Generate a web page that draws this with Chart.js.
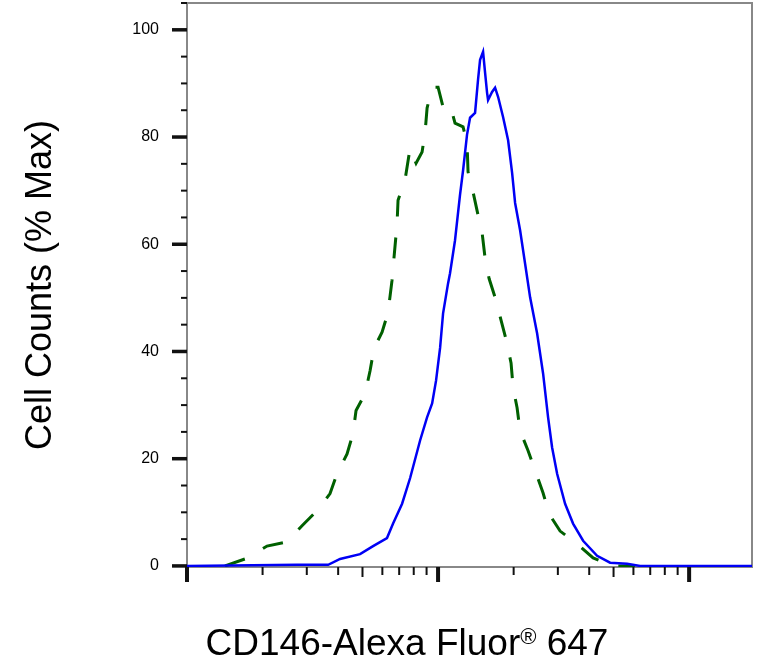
<!DOCTYPE html>
<html>
<head>
<meta charset="utf-8">
<title>CD146-Alexa Fluor 647 histogram</title>
<script src="https://cdn.jsdelivr.net/npm/chart.js@4.4.1/dist/chart.umd.min.js"></script>
<style>
    html, body { margin: 0; padding: 0; background: #fff; }
    #chart { display: block; }
</style>
</head>
<body>
<canvas id="chart" width="768" height="665"></canvas>
<script>
// CD146 staging histogram - stained (blue, solid) vs control (green, dashed)

// Stained sample (fluorescence, % max)
const stainedX = [1000, 2740, 3650, 4070, 4890, 5510, 6260, 6620, 7190, 7740,
    8480, 9040, 9470, 9820, 10190, 10470, 10960, 11160, 11680, 12230,
    12580, 13040, 13410, 14040, 14430, 14700, 15110, 15390, 15680, 15820,
    16410, 16870, 17340, 18160, 19010, 19720, 20270, 21220, 22210, 23260,
    24800, 26200, 27430, 28460, 29800, 32060, 34490, 37820, 43000, 48450,
    56620, 63800, 178000];
const stainedY = [0, 0.2, 0.2, 1.3, 2.2, 3.7, 5.2, 7.9, 11.6, 16.4,
    23.4, 27.7, 30.3, 34.6, 40.7, 47.1, 52.7, 54.6, 60.7, 69.2,
    73.8, 80.4, 83.6, 84.5, 90.7, 94.4, 95.9, 92.0, 88.2, 86.9,
    88.4, 89.2, 87.5, 83.7, 79.4, 73.3, 67.7, 62.6, 56.4, 50.1,
    43.4, 35.9, 27.7, 22.1, 17.2, 11.6, 7.9, 4.7, 1.9, 0.6,
    0.4, 0, 0];

// Control sample
const controlX = [1417, 1750, 2083, 2502, 2872, 3295, 3713, 3960, 4340, 4585,
    4713, 5120, 5360, 5559, 5983, 6322, 6557, 6618, 6866, 6928,
    7387, 7735, 8173, 8636, 8878, 9042, 9465, 10000, 10469, 11160,
    11684, 12575, 13044, 13165, 13790, 14433, 14972, 15392, 15967, 17025,
    17824, 18834, 19535, 19900, 20640, 21218, 22835, 24350, 26200, 27690,
    30630, 35800, 41450, 49800, 60950];
const controlY = [0, 1.5, 3.7, 4.5, 7.5, 10.3, 13.5, 17.2, 20.9, 24.7,
    29.0, 32.1, 36.4, 40.6, 43.6, 47.3, 53.3, 55.5, 63.9, 68.2,
    72.0, 77.9, 75.1, 77.2, 80.9, 85.4, 89.3, 89.3, 85.6, 86.0,
    82.6, 81.9, 78.9, 73.5, 69.7, 65.4, 62.2, 57.4, 53.6, 49.5,
    45.8, 41.5, 37.8, 33.3, 29.5, 25.2, 21.5, 17.8, 13.6, 9.7,
    6.5, 4.1, 1.5, 0, 0];

// Axis ticks
const yTickLabels = [0, 20, 40, 60, 80, 100];
const yMinorStep = 5;
const xDecades = [1000, 10000, 100000];
const xMin = 1000;
const xMax = 178000;
const yMin = -0.2;
const yMax = 105;

const FONT = "'Liberation Sans', Arial, sans-serif";

function toPoints(xs, ys) {
    return xs.map((x, i) => ({ x, y: ys[i] }));
}

/**
 * Grey box round the plot area
 */
const framePlugin = {
    id: 'frame',
    beforeDatasetsDraw(chart) {
        const { ctx, chartArea: a } = chart;
        ctx.save();
        ctx.strokeStyle = '#888';
        ctx.lineWidth = 2;
        ctx.strokeRect(a.left, a.top, a.right - a.left, a.bottom - a.top);
        ctx.restore();
    }
};

/**
 * Outside tick marks: long for majors, short for minors
 */
const tickMarksPlugin = {
    id: 'tickMarks',
    afterDatasetsDraw(chart) {
        const { ctx, chartArea: a, scales } = chart;
        ctx.save();
        ctx.strokeStyle = '#111';

        // y axis
        for (let v = 0; v <= yMax; v += yMinorStep) {
            const py = scales.y.getPixelForValue(v);
            const major = yTickLabels.includes(v);
            ctx.lineWidth = major ? 3.5 : 2;
            ctx.beginPath();
            ctx.moveTo(a.left - (major ? 15 : 6), py);
            ctx.lineTo(a.left, py);
            ctx.stroke();
        }

        // x axis (log decades)
        xDecades.forEach(d => {
            for (let k = 1; k <= 9; k++) {
                const v = d * k;
                if (v < xMin || v > xMax) continue;
                const px = scales.x.getPixelForValue(v);
                const len = k === 1 ? 15 : (k === 5 ? 10 : 8);
                ctx.lineWidth = k === 1 ? 4 : 2;
                ctx.beginPath();
                ctx.moveTo(px, a.bottom);
                ctx.lineTo(px, a.bottom + len);
                ctx.stroke();
            }
        });
        ctx.restore();
    }
};

/**
 * X title with superscript registered sign
 */
const xTitlePlugin = {
    id: 'xTitle',
    afterDraw(chart) {
        const { ctx } = chart;
        const parts = [
            { text: 'CD146-Alexa Fluor', size: 37, rise: 0 },
            { text: '\u00AE', size: 22, rise: 11 },
            { text: ' 647', size: 37, rise: 0 }
        ];
        ctx.save();
        ctx.fillStyle = '#000';
        ctx.textBaseline = 'alphabetic';
        ctx.textAlign = 'left';
        let total = 0;
        parts.forEach(p => {
            ctx.font = `${p.size}px ${FONT}`;
            p.w = ctx.measureText(p.text).width;
            total += p.w;
        });
        let x = 407 - total / 2;
        const baseY = 655;
        parts.forEach(p => {
            ctx.font = `${p.size}px ${FONT}`;
            ctx.fillText(p.text, x, baseY - p.rise);
            x += p.w;
        });
        ctx.restore();
    }
};

function renderChart() {
    const ctx = document.getElementById('chart').getContext('2d');

    return new Chart(ctx, {
        type: 'line',
        data: {
            datasets: [
                {
                    label: 'CD146',
                    data: toPoints(stainedX, stainedY),
                    borderColor: '#0000f5',
                    borderWidth: 2.5,
                    pointRadius: 0,
                    tension: 0,
                    fill: false
                },
                {
                    label: 'Control',
                    data: toPoints(controlX, controlY),
                    borderColor: '#006000',
                    borderWidth: 3,
                    borderDash: [21, 21],
                    pointRadius: 0,
                    tension: 0,
                    fill: false
                }
            ]
        },
        options: {
            responsive: false,
            animation: false,
            layout: { padding: { top: 3, right: 16, bottom: 0, left: 0 } },
            plugins: {
                legend: { display: false },
                tooltip: { enabled: false }
            },
            scales: {
                x: {
                    type: 'logarithmic',
                    min: xMin,
                    max: xMax,
                    grid: { display: false, drawTicks: false },
                    border: { display: false },
                    ticks: { display: false },
                    afterBuildTicks: (scale) => {
                        scale.ticks = xDecades.map(v => ({ value: v, major: true }));
                    },
                    afterFit: (scale) => {
                        scale.height = 98;
                        scale.paddingLeft = 0;
                        scale.paddingRight = 0;
                    }
                },
                y: {
                    type: 'linear',
                    min: yMin,
                    max: yMax,
                    grid: { display: false, drawTicks: false },
                    border: { display: false },
                    ticks: {
                        color: '#000',
                        padding: 28,
                        font: { family: FONT, size: 16 }
                    },
                    afterBuildTicks: (scale) => {
                        scale.ticks = yTickLabels.map(v => ({ value: v }));
                    },
                    afterFit: (scale) => {
                        scale.width = 187;
                        // labels sit well inside the frame, no extra room needed
                        scale.paddingTop = 0;
                        scale.paddingBottom = 0;
                    },
                    title: {
                        display: true,
                        text: 'Cell Counts (% Max)',
                        color: '#000',
                        font: { family: FONT, size: 36 },
                        padding: { top: 19, bottom: 0 }
                    }
                }
            }
        },
        plugins: [framePlugin, tickMarksPlugin, xTitlePlugin]
    });
}

renderChart();
</script>
</body>
</html>
